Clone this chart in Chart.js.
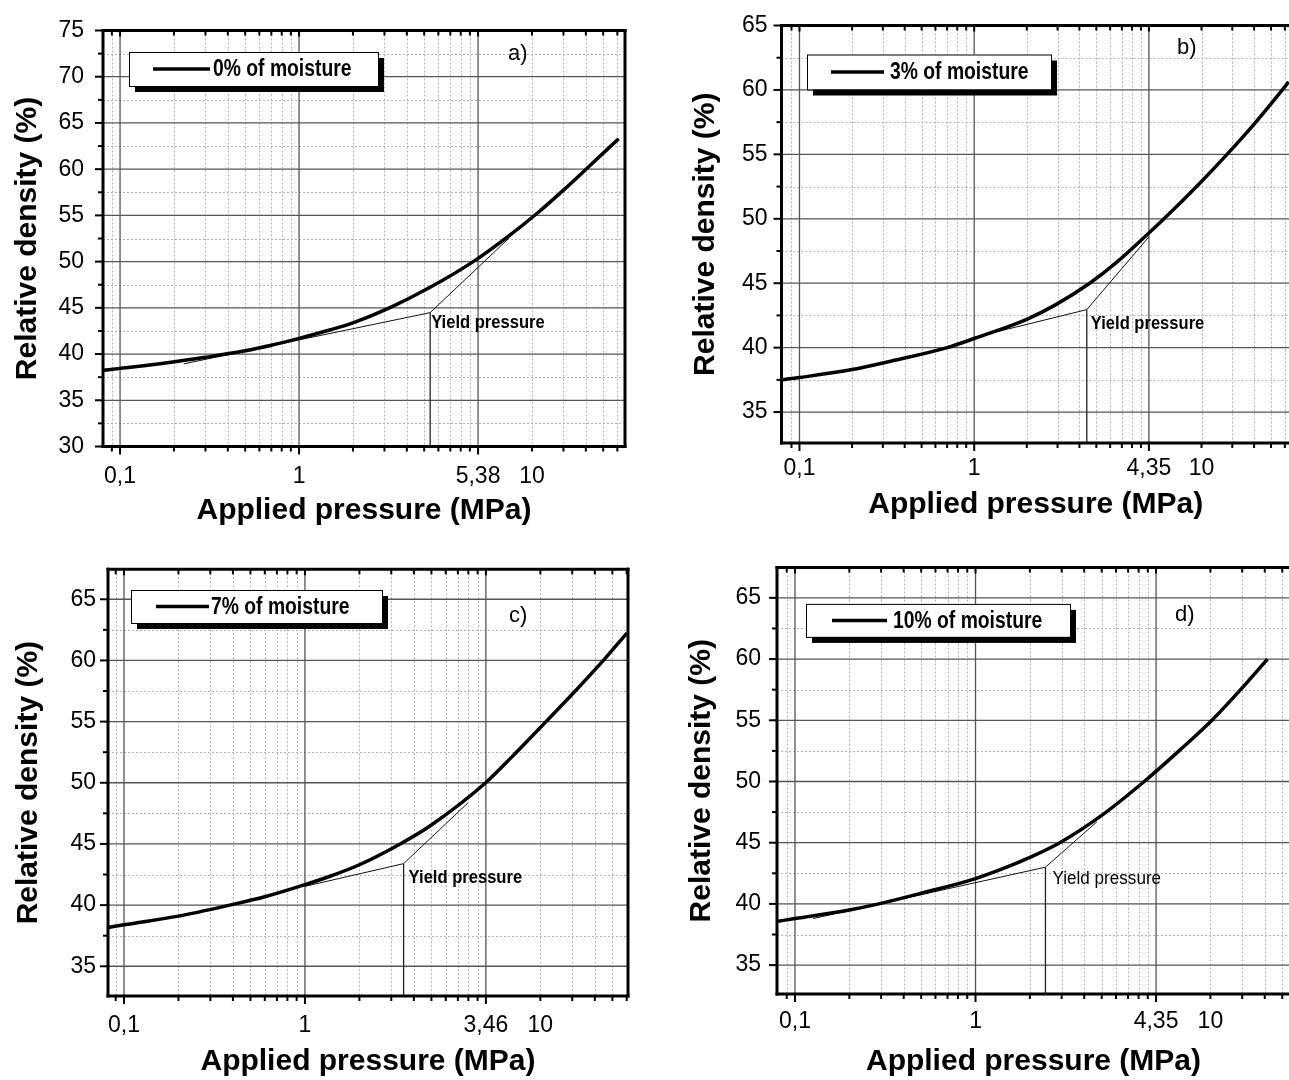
<!DOCTYPE html>
<html><head><meta charset="utf-8">
<script src="https://cdn.jsdelivr.net/npm/chart.js@4.4.1/dist/chart.umd.min.js"></script>
<style>
html,body{margin:0;padding:0;background:#fff;overflow:hidden;width:1289px;height:1080px;position:relative}
canvas{position:absolute;display:block}
</style></head><body>
<canvas id="ca" width="640" height="540" style="left:0px;top:0px;width:640px;height:540px"></canvas>
<canvas id="cb" width="660" height="540" style="left:645px;top:0px;width:660px;height:540px"></canvas>
<canvas id="cc" width="640" height="540" style="left:0px;top:540px;width:640px;height:540px"></canvas>
<canvas id="cd" width="660" height="540" style="left:645px;top:540px;width:660px;height:540px"></canvas>
<script>
// ---------------- data ----------------
const moistureLabels = ['0% of moisture', '3% of moisture', '7% of moisture', '10% of moisture'];
const panelLetters = ['a)', 'b)', 'c)', 'd)'];

const pressureA = [0.08, 0.1, 0.175, 0.3, 0.5, 0.7, 1, 1.5, 2, 3.2, 5.4, 9.4, 15, 21.4, 30, 40.5, 61];
const densityA  = [38.23, 38.45, 39.0, 39.65, 40.35, 40.95, 41.7, 42.63, 43.38, 45.0, 47.22, 50.0, 52.84, 55.23, 57.73, 60.07, 63.3];
const pressureB = [0.079, 0.1, 0.2, 0.333, 0.7, 1, 2, 2.9, 4.58, 6.5, 10, 12.2, 20, 28, 40, 58, 63.1];
const densityB  = [37.5, 37.68, 38.3, 38.95, 40.0, 40.71, 42.2, 43.3, 45.0, 46.6, 48.9, 50.0, 52.9, 55.0, 57.35, 60.0, 60.62];
const pressureC = [0.082, 0.1, 0.2, 0.384, 0.6, 1, 1.4, 2, 3.36, 5, 9.97, 14.1, 21.5, 31, 44.6, 60.2];
const densityC  = [38.17, 38.39, 39.1, 40.0, 40.68, 41.67, 42.4, 43.3, 45.0, 46.55, 50.0, 52.2, 55.0, 57.46, 60.0, 62.24];
const pressureD = [0.0806, 0.1, 0.2, 0.291, 0.5, 1, 1.5, 2, 2.93, 5, 8.6, 13.4, 20.4, 29.4, 41.4];
const densityD  = [38.58, 38.8, 39.5, 40.0, 40.87, 42.07, 43.02, 43.8, 45.0, 47.23, 50.0, 52.5, 55.0, 57.5, 60.0];

// yield-pressure construction lines (a, b, c, d)
const yieldPressure      = [5.4, 4.41, 3.51, 2.44];
const yieldDensity       = [44.48, 42.95, 43.39, 43.0];
const lowTangentPressure = [0.227, 1.0, 1.0, 0.126];
const lowTangentDensity  = [38.94, 40.8, 41.53, 38.8];
const upTangentPressure  = [15.0, 10.0, 7.96, 4.7];
const upTangentDensity   = [52.6, 48.6, 48.36, 46.7];
const yieldLabel = 'Yield pressure';

// axes
const xMin = [0.0803, 0.0789, 0.0816, 0.0795];
const xMax = [66.2, 64.2, 61, 55.2];
const yMin = [30, 32.6, 32.57, 32.64];
const yMax = [75, 65, 67.45, 67.48];
const yTicksA   = [30, 35, 40, 45, 50, 55, 60, 65, 70, 75];
const yTicksBCD = [35, 40, 45, 50, 55, 60, 65];
const xTickValues = [0.1, 1, 10, 20];
const xTickLabelsA = ['0,1', '1', '5,38', '10'];
const xTickLabelsB = ['0,1', '1', '4,35', '10'];
const xTickLabelsC = ['0,1', '1', '3,46', '10'];
const xTickLabelsD = ['0,1', '1', '4,35', '10'];
const xMajorGrid = [0.1, 1, 10];
const xMinorGrid = [0.09, 0.2, 0.3, 0.4, 0.5, 0.6, 0.7, 0.8, 0.9, 2, 3, 4, 5, 6, 7, 8, 9, 20, 30, 40, 50, 60, 70, 80, 90];
const xAxisTitle = 'Applied pressure (MPa)';
const yAxisTitle = 'Relative density (%)';

// ---------------- layout (positions / sizes) ----------------
const FONT = "'Liberation Sans', Arial, Helvetica, sans-serif";
const TICK_SIZE = 23;
const layouts = [
  {id: 'ca', pad: {left: 0, top: 23.5, right: 15, bottom: 14}, yW: 103, xH: 79.5, yTitlePad: 13, yTickPad: 19, xTickPad: 18.5, rightBorder: true,
   legend: {dx: 26, dy: 21.5, w: 249, h: 34, lx0: 24, lx1: 81, tx: 84}, letter: {dx: 405, dy: 23.5}, ylab: {dx: 1, dy: 10, bold: true}},
  {id: 'cb', pad: {left: 0, top: 20, right: 15, bottom: 20}, yW: 136.5, xH: 77, yTitlePad: 46, yTickPad: 14, xTickPad: 14, rightBorder: false,
   legend: {dx: 25.5, dy: 29, w: 244, h: 35, lx0: 24, lx1: 77, tx: 83}, letter: {dx: 395.5, dy: 22}, ylab: {dx: 4, dy: 14, bold: true}},
  {id: 'cc', pad: {left: 0, top: 29.3, right: 12, bottom: 3.5}, yW: 108, xH: 80.5, yTitlePad: 13.7, yTickPad: 12, xTickPad: 18, rightBorder: true,
   legend: {dx: 23, dy: 20.7, w: 251, h: 33, lx0: 25, lx1: 78, tx: 80}, letter: {dx: 401, dy: 46.7}, ylab: {dx: 5, dy: 14.5, bold: true}},
  {id: 'cd', pad: {left: 0, top: 26.6, right: 15, bottom: 3.5}, yW: 132, xH: 82.5, yTitlePad: 42, yTickPad: 16, xTickPad: 16.5, rightBorder: false,
   legend: {dx: 29, dy: 36.4, w: 264, h: 33, lx0: 26, lx1: 81, tx: 87}, letter: {dx: 398, dy: 47}, ylab: {dx: 7, dy: 12, bold: false}}
];

const panels = [
  {p: pressureA, d: densityA, yt: yTicksA, xl: xTickLabelsA},
  {p: pressureB, d: densityB, yt: yTicksBCD, xl: xTickLabelsB},
  {p: pressureC, d: densityC, yt: yTicksBCD, xl: xTickLabelsC},
  {p: pressureD, d: densityD, yt: yTicksBCD, xl: xTickLabelsD}
];

function seg(ctx, x0, y0, x1, y1) { ctx.beginPath(); ctx.moveTo(x0, y0); ctx.lineTo(x1, y1); ctx.stroke(); }

const deco = {
  id: 'deco',
  beforeDatasetsDraw(chart, args, o) {
    const {ctx, chartArea: a, scales: {x, y}} = chart;
    ctx.save();
    ctx.beginPath(); ctx.rect(a.left, a.top, a.right - a.left, a.bottom - a.top); ctx.clip();
    ctx.strokeStyle = '#b0b0b0'; ctx.lineWidth = 1; ctx.setLineDash([2, 2]);
    o.xMinor.forEach(v => { if (v > x.min && v < x.max) { const p = Math.round(x.getPixelForValue(v)) + 0.5; seg(ctx, p, a.top, p, a.bottom); } });
    o.yMinor.forEach(v => { if (v > y.min && v < y.max) { const p = Math.round(y.getPixelForValue(v)) + 0.5; seg(ctx, a.left, p, a.right, p); } });
    ctx.setLineDash([]);
    ctx.strokeStyle = '#555'; ctx.lineWidth = 1.3;
    o.xMajor.forEach(v => { if (v > x.min && v < x.max) { const p = x.getPixelForValue(v); seg(ctx, p, a.top, p, a.bottom); } });
    o.yMajor.forEach(v => { if (v > y.min && v < y.max) { const p = y.getPixelForValue(v); seg(ctx, a.left, p, a.right, p); } });
    ctx.restore();
  },
  afterDatasetsDraw(chart, args, o) {
    const {ctx, chartArea: a, scales: {x, y}} = chart;
    const L = o.layout;
    ctx.save();
    ctx.strokeStyle = '#000'; ctx.lineWidth = 2;
    o.yMajor.forEach(v => { if (v >= y.min && v <= y.max) { const p = y.getPixelForValue(v); seg(ctx, a.left - 8, p, a.left, p); } });
    o.yMinor.forEach(v => { if (v >= y.min && v <= y.max) { const p = y.getPixelForValue(v); seg(ctx, a.left - 5, p, a.left, p); } });
    o.xMajor.forEach(v => { if (v >= x.min && v <= x.max) { const p = x.getPixelForValue(v); seg(ctx, p, a.bottom, p, a.bottom + 8); seg(ctx, p, a.top, p, a.top + 6); } });
    o.xMinor.forEach(v => { if (v >= x.min && v <= x.max) { const p = x.getPixelForValue(v); seg(ctx, p, a.bottom, p, a.bottom + 5); seg(ctx, p, a.top, p, a.top + 5); } });
    ctx.lineWidth = 3; ctx.lineCap = 'square';
    seg(ctx, a.left, a.top, a.right, a.top);
    seg(ctx, a.left, a.bottom, a.right, a.bottom);
    seg(ctx, a.left, a.top, a.left, a.bottom);
    if (L.rightBorder) seg(ctx, a.right, a.top, a.right, a.bottom);
    ctx.lineCap = 'butt';
    const g = L.legend, bx = a.left + g.dx, by = a.top + g.dy;
    ctx.fillStyle = '#000'; ctx.fillRect(bx + 6, by + 6, g.w, g.h);
    ctx.fillStyle = '#fff'; ctx.fillRect(bx, by, g.w, g.h);
    ctx.lineWidth = 1; ctx.strokeStyle = '#000'; ctx.strokeRect(bx + 0.5, by + 0.5, g.w, g.h);
    ctx.lineWidth = 3.5; seg(ctx, bx + g.lx0, by + g.h / 2, bx + g.lx1, by + g.h / 2);
    ctx.fillStyle = '#000'; ctx.textBaseline = 'middle'; ctx.textAlign = 'left';
    ctx.font = 'bold 23px ' + FONT;
    ctx.save(); ctx.translate(bx + g.tx, by + g.h / 2 + 1); ctx.scale(0.84, 1); ctx.fillText(o.legendText, 0, 0); ctx.restore();
    ctx.font = '22px ' + FONT;
    ctx.fillText(o.letter, a.left + L.letter.dx, a.top + L.letter.dy);
    const px = x.getPixelForValue(o.yieldX), py = y.getPixelForValue(o.yieldY);
    ctx.font = (L.ylab.bold ? 'bold ' : '') + '18px ' + FONT;
    ctx.save(); ctx.translate(px + L.ylab.dx, py + L.ylab.dy); ctx.scale(L.ylab.bold ? 0.92 : 0.95, 1); ctx.fillText(yieldLabel, 0, 0); ctx.restore();
    ctx.restore();
  }
};

function pts(xs, ys) { return xs.map((v, i) => ({x: v, y: ys[i]})); }
function halfSteps(t) { const r = []; for (let i = 0; i < t.length - 1; i++) r.push((t[i] + t[i + 1]) / 2); r.push(t[t.length - 1] + (t[1] - t[0]) / 2); r.unshift(t[0] - (t[1] - t[0]) / 2); return r; }

panels.forEach((P, i) => {
  const L = layouts[i];
  const yMinor = halfSteps(P.yt);
  new Chart(document.getElementById(L.id), {
    type: 'line',
    data: {
      datasets: [
        {data: pts(P.p, P.d), borderColor: '#000', borderWidth: 3.5, pointRadius: 0, cubicInterpolationMode: 'monotone', fill: false},
        {data: pts([lowTangentPressure[i], yieldPressure[i], upTangentPressure[i]], [lowTangentDensity[i], yieldDensity[i], upTangentDensity[i]]),
         borderColor: '#111', borderWidth: 1, pointRadius: 0, tension: 0, fill: false},
        {data: pts([yieldPressure[i], yieldPressure[i]], [yieldDensity[i], yMin[i]]), borderColor: '#222', borderWidth: 1.3, pointRadius: 0, tension: 0, fill: false}
      ]
    },
    options: {
      responsive: false, animation: false, devicePixelRatio: 1,
      layout: {padding: L.pad},
      plugins: {
        legend: {display: false}, tooltip: {enabled: false},
        deco: {layout: L, xMajor: xMajorGrid, xMinor: xMinorGrid, yMajor: P.yt, yMinor: yMinor,
               legendText: moistureLabels[i], letter: panelLetters[i], yieldX: yieldPressure[i], yieldY: yieldDensity[i]}
      },
      scales: {
        x: {
          type: 'logarithmic', min: xMin[i], max: xMax[i], bounds: 'data',
          grid: {display: false, drawTicks: false}, border: {display: false},
          afterBuildTicks: s => { s.ticks = xTickValues.map(v => ({value: v})); },
          afterFit: s => { s.height = L.xH; },
          ticks: {autoSkip: false, maxRotation: 0, padding: L.xTickPad, color: '#000',
                  font: {size: TICK_SIZE, family: FONT, lineHeight: 1},
                  callback: (v) => { const k = xTickValues.indexOf(v); return k >= 0 ? P.xl[k] : ''; }},
          title: {display: true, text: xAxisTitle, color: '#000', padding: {top: 0, bottom: 0},
                  font: {size: 30, weight: 'bold', family: FONT, lineHeight: 1}}
        },
        y: {
          type: 'linear', min: yMin[i], max: yMax[i], bounds: 'data',
          grid: {display: false, drawTicks: false}, border: {display: false},
          afterBuildTicks: s => { s.ticks = P.yt.map(v => ({value: v})); },
          afterFit: s => { s.width = L.yW; },
          ticks: {autoSkip: false, padding: L.yTickPad, color: '#000',
                  font: {size: TICK_SIZE, family: FONT, lineHeight: 1},
                  callback: v => String(v)},
          title: {display: true, text: yAxisTitle, color: '#000', padding: {top: L.yTitlePad, bottom: 0},
                  font: {size: 30, weight: 'bold', family: FONT, lineHeight: 1}}
        }
      }
    },
    plugins: [deco]
  });
});
</script>
</body></html>
